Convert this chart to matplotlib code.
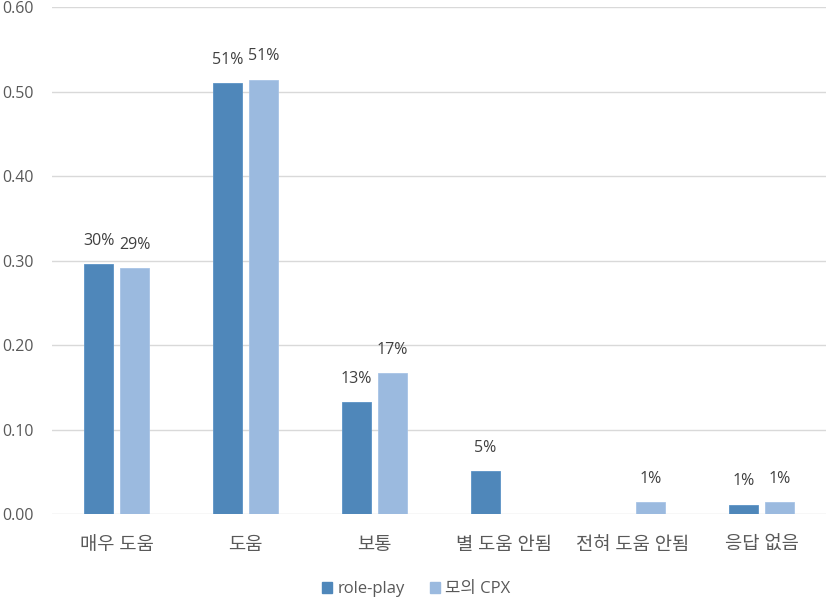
import matplotlib
matplotlib.use("Agg")
from matplotlib import pyplot as plt
from matplotlib.patches import Patch
import numpy as np

# Latin text in Open Sans, Korean falls through to Noto Sans CJK KR
plt.rcParams['font.family'] = ['Open Sans', 'Noto Sans CJK KR', 'DejaVu Sans']

categories = ['매우 도움', '도움', '보통', '별 도움 안됨', '전혀 도움 안됨', '응답 없음']
role_play = [0.296, 0.510, 0.132, 0.051, 0.0, 0.011]
mock_cpx = [0.291, 0.514, 0.167, 0.0, 0.014, 0.014]
series_names = ['role-play', '모의 CPX']
yticks = [0.0, 0.1, 0.2, 0.3, 0.4, 0.5, 0.6]

dark = '#4F87BA'
light = '#9BBADF'
txt = '#595959'

fig = plt.figure(figsize=(8.27, 6.0), dpi=100)
ax = fig.add_axes([0.063, 0.1433, 0.936, 0.845])

x = np.arange(len(categories))
w = 0.225
off = 0.14
b1 = ax.bar(x - off, role_play, w, color=dark, edgecolor='#5B93C6', linewidth=0.6, zorder=3)
b2 = ax.bar(x + off, mock_cpx, w, color=light, edgecolor='#A8C4E6', linewidth=0.6, zorder=3)

for bars, vals in [(b1, role_play), (b2, mock_cpx)]:
    for b, v in zip(bars, vals):
        if v <= 0:
            continue
        ax.annotate(f"{round(v * 100):.0f}%", (b.get_x() + b.get_width() / 2, v),
                    xytext=(0, 11), textcoords='offset points',
                    ha='center', va='bottom', fontsize=11.5, color='#404040')

ax.set_xlim(-0.5, len(categories) - 0.5)
ax.set_ylim(0, 0.6)
ax.set_yticks(yticks)
ax.set_yticklabels([f"{t:.2f}" for t in yticks])
ax.set_xticks(x)
ax.set_xticklabels(categories)
ax.tick_params(axis='y', length=0, pad=13, labelsize=11.5, labelcolor=txt)
ax.tick_params(axis='x', length=0, pad=16, labelsize=13.5, labelcolor=txt)
ax.grid(axis='y', color='#D9D9D9', linewidth=1, zorder=0)
for s in ax.spines.values():
    s.set_visible(False)

handles = [Patch(color=dark), Patch(color=light)]
fig.legend(handles, series_names, loc='center', bbox_to_anchor=(0.503, 0.018),
           ncol=2, frameon=False, fontsize=12, labelcolor=txt,
           handlelength=0.6, handleheight=0.6, handletextpad=0.3, columnspacing=1.5,
           borderpad=0)

fig.savefig('out.png', dpi=100)
